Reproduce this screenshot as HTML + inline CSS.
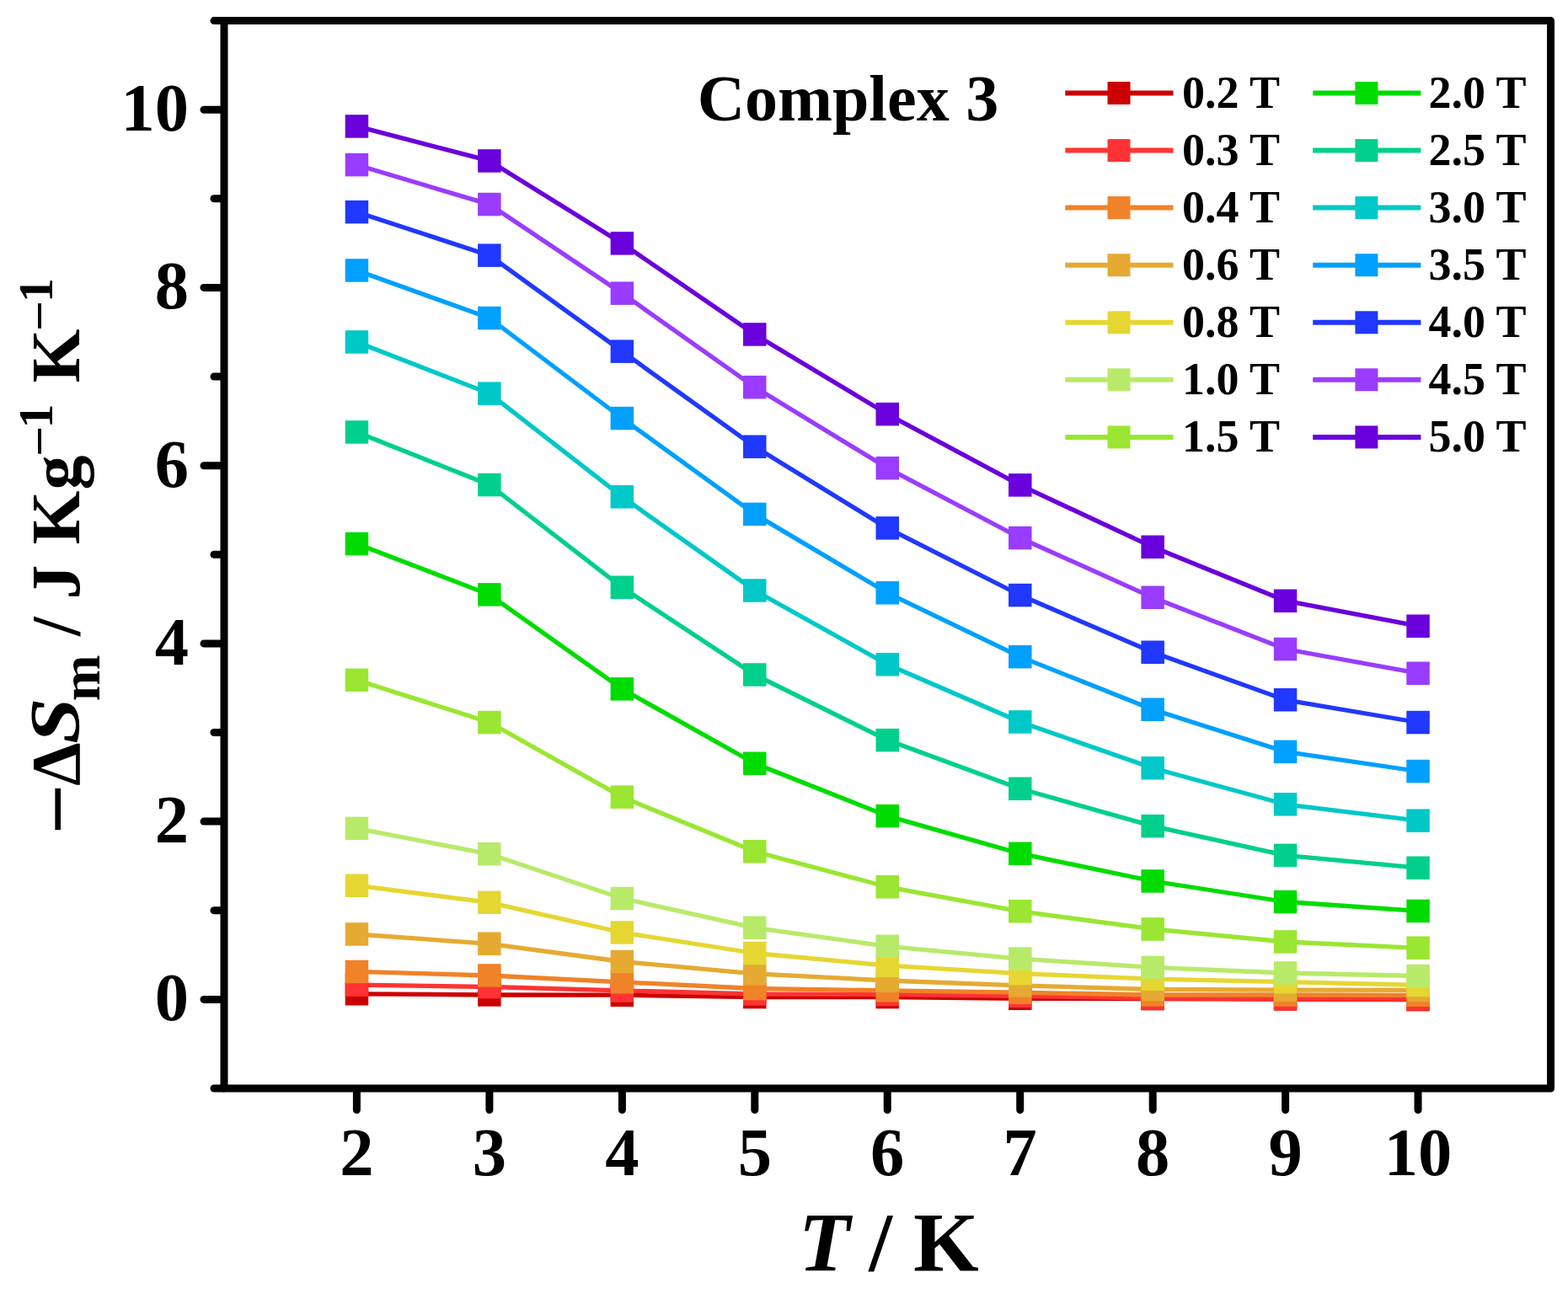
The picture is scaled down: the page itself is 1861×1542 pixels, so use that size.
<!DOCTYPE html><html><head><meta charset="utf-8"><title>Complex 3</title><style>html,body{margin:0;padding:0;background:#fff;overflow:hidden}svg{display:block}text{font-family:"Liberation Serif","Times New Roman",serif;font-weight:bold;fill:#000}</style></head><body>
<svg width="1861" height="1542" viewBox="0 0 1861 1542">
<rect width="1861" height="1542" fill="#fff"/>
<g stroke-linejoin="round" stroke-linecap="butt">
<path d="M423.4,1179.8 L580.9,1181.0 L738.4,1181.2 L895.8,1183.5 L1053.2,1183.5 L1210.7,1185.3 L1368.2,1185.5 L1525.6,1186.0 L1683.0,1186.5" fill="none" stroke="#cc0000" stroke-width="5.3"/>
<rect x="409.7" y="1166.0" width="27.5" height="27.5" fill="#cc0000"/>
<rect x="567.1" y="1167.2" width="27.5" height="27.5" fill="#cc0000"/>
<rect x="724.6" y="1167.5" width="27.5" height="27.5" fill="#cc0000"/>
<rect x="882.0" y="1169.8" width="27.5" height="27.5" fill="#cc0000"/>
<rect x="1039.5" y="1169.8" width="27.5" height="27.5" fill="#cc0000"/>
<rect x="1197.0" y="1171.5" width="27.5" height="27.5" fill="#cc0000"/>
<rect x="1354.4" y="1171.8" width="27.5" height="27.5" fill="#cc0000"/>
<rect x="1511.8" y="1172.2" width="27.5" height="27.5" fill="#cc0000"/>
<rect x="1669.3" y="1172.8" width="27.5" height="27.5" fill="#cc0000"/>
<path d="M423.4,1169.1 L580.9,1171.5 L738.4,1175.9 L895.8,1180.0 L1053.2,1180.5 L1210.7,1182.3 L1368.2,1185.1 L1525.6,1185.5 L1683.0,1186.0" fill="none" stroke="#ff3333" stroke-width="5.3"/>
<rect x="409.7" y="1155.3" width="27.5" height="27.5" fill="#ff3333"/>
<rect x="567.1" y="1157.8" width="27.5" height="27.5" fill="#ff3333"/>
<rect x="724.6" y="1162.2" width="27.5" height="27.5" fill="#ff3333"/>
<rect x="882.0" y="1166.2" width="27.5" height="27.5" fill="#ff3333"/>
<rect x="1039.5" y="1166.8" width="27.5" height="27.5" fill="#ff3333"/>
<rect x="1197.0" y="1168.5" width="27.5" height="27.5" fill="#ff3333"/>
<rect x="1354.4" y="1171.3" width="27.5" height="27.5" fill="#ff3333"/>
<rect x="1511.8" y="1171.8" width="27.5" height="27.5" fill="#ff3333"/>
<rect x="1669.3" y="1172.2" width="27.5" height="27.5" fill="#ff3333"/>
<path d="M423.4,1153.4 L580.9,1158.0 L738.4,1165.8 L895.8,1173.5 L1053.2,1175.8 L1210.7,1178.2 L1368.2,1181.0 L1525.6,1181.0 L1683.0,1181.3" fill="none" stroke="#f08228" stroke-width="5.3"/>
<rect x="409.7" y="1139.7" width="27.5" height="27.5" fill="#f08228"/>
<rect x="567.1" y="1144.2" width="27.5" height="27.5" fill="#f08228"/>
<rect x="724.6" y="1152.0" width="27.5" height="27.5" fill="#f08228"/>
<rect x="882.0" y="1159.8" width="27.5" height="27.5" fill="#f08228"/>
<rect x="1039.5" y="1162.0" width="27.5" height="27.5" fill="#f08228"/>
<rect x="1197.0" y="1164.5" width="27.5" height="27.5" fill="#f08228"/>
<rect x="1354.4" y="1167.2" width="27.5" height="27.5" fill="#f08228"/>
<rect x="1511.8" y="1167.2" width="27.5" height="27.5" fill="#f08228"/>
<rect x="1669.3" y="1167.5" width="27.5" height="27.5" fill="#f08228"/>
<path d="M423.4,1109.0 L580.9,1120.3 L738.4,1141.5 L895.8,1155.8 L1053.2,1164.0 L1210.7,1169.9 L1368.2,1174.5 L1525.6,1175.1 L1683.0,1175.3" fill="none" stroke="#e6aa32" stroke-width="5.3"/>
<rect x="409.7" y="1095.2" width="27.5" height="27.5" fill="#e6aa32"/>
<rect x="567.1" y="1106.5" width="27.5" height="27.5" fill="#e6aa32"/>
<rect x="724.6" y="1127.8" width="27.5" height="27.5" fill="#e6aa32"/>
<rect x="882.0" y="1142.0" width="27.5" height="27.5" fill="#e6aa32"/>
<rect x="1039.5" y="1150.2" width="27.5" height="27.5" fill="#e6aa32"/>
<rect x="1197.0" y="1156.2" width="27.5" height="27.5" fill="#e6aa32"/>
<rect x="1354.4" y="1160.8" width="27.5" height="27.5" fill="#e6aa32"/>
<rect x="1511.8" y="1161.3" width="27.5" height="27.5" fill="#e6aa32"/>
<rect x="1669.3" y="1161.5" width="27.5" height="27.5" fill="#e6aa32"/>
<path d="M423.4,1051.2 L580.9,1071.3 L738.4,1107.0 L895.8,1131.5 L1053.2,1146.2 L1210.7,1155.7 L1368.2,1162.1 L1525.6,1165.6 L1683.0,1169.3" fill="none" stroke="#e6d632" stroke-width="5.3"/>
<rect x="409.7" y="1037.5" width="27.5" height="27.5" fill="#e6d632"/>
<rect x="567.1" y="1057.5" width="27.5" height="27.5" fill="#e6d632"/>
<rect x="724.6" y="1093.2" width="27.5" height="27.5" fill="#e6d632"/>
<rect x="882.0" y="1117.8" width="27.5" height="27.5" fill="#e6d632"/>
<rect x="1039.5" y="1132.5" width="27.5" height="27.5" fill="#e6d632"/>
<rect x="1197.0" y="1142.0" width="27.5" height="27.5" fill="#e6d632"/>
<rect x="1354.4" y="1148.3" width="27.5" height="27.5" fill="#e6d632"/>
<rect x="1511.8" y="1151.8" width="27.5" height="27.5" fill="#e6d632"/>
<rect x="1669.3" y="1155.5" width="27.5" height="27.5" fill="#e6d632"/>
<path d="M423.4,983.4 L580.9,1013.8 L738.4,1066.5 L895.8,1101.3 L1053.2,1123.3 L1210.7,1138.1 L1368.2,1148.4 L1525.6,1155.0 L1683.0,1158.5" fill="none" stroke="#b8ea6a" stroke-width="5.3"/>
<rect x="409.7" y="969.6" width="27.5" height="27.5" fill="#b8ea6a"/>
<rect x="567.1" y="1000.0" width="27.5" height="27.5" fill="#b8ea6a"/>
<rect x="724.6" y="1052.8" width="27.5" height="27.5" fill="#b8ea6a"/>
<rect x="882.0" y="1087.5" width="27.5" height="27.5" fill="#b8ea6a"/>
<rect x="1039.5" y="1109.5" width="27.5" height="27.5" fill="#b8ea6a"/>
<rect x="1197.0" y="1124.3" width="27.5" height="27.5" fill="#b8ea6a"/>
<rect x="1354.4" y="1134.7" width="27.5" height="27.5" fill="#b8ea6a"/>
<rect x="1511.8" y="1141.2" width="27.5" height="27.5" fill="#b8ea6a"/>
<rect x="1669.3" y="1144.8" width="27.5" height="27.5" fill="#b8ea6a"/>
<path d="M423.4,807.2 L580.9,857.5 L738.4,946.1 L895.8,1010.8 L1053.2,1052.8 L1210.7,1081.8 L1368.2,1102.9 L1525.6,1118.0 L1683.0,1125.3" fill="none" stroke="#9ae632" stroke-width="5.3"/>
<rect x="409.7" y="793.5" width="27.5" height="27.5" fill="#9ae632"/>
<rect x="567.1" y="843.8" width="27.5" height="27.5" fill="#9ae632"/>
<rect x="724.6" y="932.4" width="27.5" height="27.5" fill="#9ae632"/>
<rect x="882.0" y="997.0" width="27.5" height="27.5" fill="#9ae632"/>
<rect x="1039.5" y="1039.0" width="27.5" height="27.5" fill="#9ae632"/>
<rect x="1197.0" y="1068.0" width="27.5" height="27.5" fill="#9ae632"/>
<rect x="1354.4" y="1089.2" width="27.5" height="27.5" fill="#9ae632"/>
<rect x="1511.8" y="1104.2" width="27.5" height="27.5" fill="#9ae632"/>
<rect x="1669.3" y="1111.5" width="27.5" height="27.5" fill="#9ae632"/>
<path d="M423.4,645.5 L580.9,705.9 L738.4,817.9 L895.8,906.2 L1053.2,968.6 L1210.7,1013.2 L1368.2,1046.0 L1525.6,1070.5 L1683.0,1081.4" fill="none" stroke="#00dc00" stroke-width="5.3"/>
<rect x="409.7" y="631.8" width="27.5" height="27.5" fill="#00dc00"/>
<rect x="567.1" y="692.1" width="27.5" height="27.5" fill="#00dc00"/>
<rect x="724.6" y="804.1" width="27.5" height="27.5" fill="#00dc00"/>
<rect x="882.0" y="892.5" width="27.5" height="27.5" fill="#00dc00"/>
<rect x="1039.5" y="954.9" width="27.5" height="27.5" fill="#00dc00"/>
<rect x="1197.0" y="999.5" width="27.5" height="27.5" fill="#00dc00"/>
<rect x="1354.4" y="1032.2" width="27.5" height="27.5" fill="#00dc00"/>
<rect x="1511.8" y="1056.8" width="27.5" height="27.5" fill="#00dc00"/>
<rect x="1669.3" y="1067.7" width="27.5" height="27.5" fill="#00dc00"/>
<path d="M423.4,513.0 L580.9,575.5 L738.4,697.3 L895.8,801.0 L1053.2,878.6 L1210.7,936.2 L1368.2,980.6 L1525.6,1015.4 L1683.0,1030.2" fill="none" stroke="#00d08c" stroke-width="5.3"/>
<rect x="409.7" y="499.2" width="27.5" height="27.5" fill="#00d08c"/>
<rect x="567.1" y="561.8" width="27.5" height="27.5" fill="#00d08c"/>
<rect x="724.6" y="683.5" width="27.5" height="27.5" fill="#00d08c"/>
<rect x="882.0" y="787.2" width="27.5" height="27.5" fill="#00d08c"/>
<rect x="1039.5" y="864.9" width="27.5" height="27.5" fill="#00d08c"/>
<rect x="1197.0" y="922.5" width="27.5" height="27.5" fill="#00d08c"/>
<rect x="1354.4" y="966.9" width="27.5" height="27.5" fill="#00d08c"/>
<rect x="1511.8" y="1001.6" width="27.5" height="27.5" fill="#00d08c"/>
<rect x="1669.3" y="1016.5" width="27.5" height="27.5" fill="#00d08c"/>
<path d="M423.4,406.0 L580.9,467.1 L738.4,589.7 L895.8,701.0 L1053.2,788.8 L1210.7,857.0 L1368.2,911.7 L1525.6,954.8 L1683.0,974.1" fill="none" stroke="#00c8c8" stroke-width="5.3"/>
<rect x="409.7" y="392.2" width="27.5" height="27.5" fill="#00c8c8"/>
<rect x="567.1" y="453.4" width="27.5" height="27.5" fill="#00c8c8"/>
<rect x="724.6" y="576.0" width="27.5" height="27.5" fill="#00c8c8"/>
<rect x="882.0" y="687.2" width="27.5" height="27.5" fill="#00c8c8"/>
<rect x="1039.5" y="775.0" width="27.5" height="27.5" fill="#00c8c8"/>
<rect x="1197.0" y="843.2" width="27.5" height="27.5" fill="#00c8c8"/>
<rect x="1354.4" y="898.0" width="27.5" height="27.5" fill="#00c8c8"/>
<rect x="1511.8" y="941.0" width="27.5" height="27.5" fill="#00c8c8"/>
<rect x="1669.3" y="960.4" width="27.5" height="27.5" fill="#00c8c8"/>
<path d="M423.4,321.0 L580.9,377.5 L738.4,496.5 L895.8,610.4 L1053.2,703.8 L1210.7,779.6 L1368.2,842.3 L1525.6,892.4 L1683.0,915.5" fill="none" stroke="#00a0ff" stroke-width="5.3"/>
<rect x="409.7" y="307.2" width="27.5" height="27.5" fill="#00a0ff"/>
<rect x="567.1" y="363.8" width="27.5" height="27.5" fill="#00a0ff"/>
<rect x="724.6" y="482.8" width="27.5" height="27.5" fill="#00a0ff"/>
<rect x="882.0" y="596.6" width="27.5" height="27.5" fill="#00a0ff"/>
<rect x="1039.5" y="690.0" width="27.5" height="27.5" fill="#00a0ff"/>
<rect x="1197.0" y="765.9" width="27.5" height="27.5" fill="#00a0ff"/>
<rect x="1354.4" y="828.5" width="27.5" height="27.5" fill="#00a0ff"/>
<rect x="1511.8" y="878.6" width="27.5" height="27.5" fill="#00a0ff"/>
<rect x="1669.3" y="901.8" width="27.5" height="27.5" fill="#00a0ff"/>
<path d="M423.4,251.7 L580.9,303.2 L738.4,417.2 L895.8,530.3 L1053.2,626.9 L1210.7,706.5 L1368.2,774.3 L1525.6,830.8 L1683.0,857.5" fill="none" stroke="#2038ff" stroke-width="5.3"/>
<rect x="409.7" y="237.9" width="27.5" height="27.5" fill="#2038ff"/>
<rect x="567.1" y="289.4" width="27.5" height="27.5" fill="#2038ff"/>
<rect x="724.6" y="403.4" width="27.5" height="27.5" fill="#2038ff"/>
<rect x="882.0" y="516.5" width="27.5" height="27.5" fill="#2038ff"/>
<rect x="1039.5" y="613.1" width="27.5" height="27.5" fill="#2038ff"/>
<rect x="1197.0" y="692.8" width="27.5" height="27.5" fill="#2038ff"/>
<rect x="1354.4" y="760.5" width="27.5" height="27.5" fill="#2038ff"/>
<rect x="1511.8" y="817.0" width="27.5" height="27.5" fill="#2038ff"/>
<rect x="1669.3" y="843.8" width="27.5" height="27.5" fill="#2038ff"/>
<path d="M423.4,195.7 L580.9,242.6 L738.4,348.2 L895.8,459.6 L1053.2,555.6 L1210.7,638.5 L1368.2,709.3 L1525.6,770.5 L1683.0,799.2" fill="none" stroke="#9a3cff" stroke-width="5.3"/>
<rect x="409.7" y="181.9" width="27.5" height="27.5" fill="#9a3cff"/>
<rect x="567.1" y="228.8" width="27.5" height="27.5" fill="#9a3cff"/>
<rect x="724.6" y="334.4" width="27.5" height="27.5" fill="#9a3cff"/>
<rect x="882.0" y="445.9" width="27.5" height="27.5" fill="#9a3cff"/>
<rect x="1039.5" y="541.9" width="27.5" height="27.5" fill="#9a3cff"/>
<rect x="1197.0" y="624.8" width="27.5" height="27.5" fill="#9a3cff"/>
<rect x="1354.4" y="695.5" width="27.5" height="27.5" fill="#9a3cff"/>
<rect x="1511.8" y="756.8" width="27.5" height="27.5" fill="#9a3cff"/>
<rect x="1669.3" y="785.5" width="27.5" height="27.5" fill="#9a3cff"/>
<path d="M423.4,149.9 L580.9,190.9 L738.4,288.9 L895.8,397.0 L1053.2,491.6 L1210.7,575.9 L1368.2,649.3 L1525.6,713.2 L1683.0,743.2" fill="none" stroke="#6a00dc" stroke-width="5.3"/>
<rect x="409.7" y="136.2" width="27.5" height="27.5" fill="#6a00dc"/>
<rect x="567.1" y="177.2" width="27.5" height="27.5" fill="#6a00dc"/>
<rect x="724.6" y="275.1" width="27.5" height="27.5" fill="#6a00dc"/>
<rect x="882.0" y="383.2" width="27.5" height="27.5" fill="#6a00dc"/>
<rect x="1039.5" y="477.9" width="27.5" height="27.5" fill="#6a00dc"/>
<rect x="1197.0" y="562.1" width="27.5" height="27.5" fill="#6a00dc"/>
<rect x="1354.4" y="635.5" width="27.5" height="27.5" fill="#6a00dc"/>
<rect x="1511.8" y="699.5" width="27.5" height="27.5" fill="#6a00dc"/>
<rect x="1669.3" y="729.5" width="27.5" height="27.5" fill="#6a00dc"/>
</g>
<g stroke="#000" stroke-width="9" stroke-linecap="round" stroke-linejoin="round" fill="none">
<path d="M266.0,24.6 L1840.5,24.6 L1840.5,1292.0 L266.0,1292.0 Z"/>
<line x1="265.0" y1="1292.0" x2="254.0" y2="1292.0"/>
<line x1="265.0" y1="1186.4" x2="242.0" y2="1186.4"/>
<line x1="265.0" y1="1080.8" x2="254.0" y2="1080.8"/>
<line x1="265.0" y1="975.1" x2="242.0" y2="975.1"/>
<line x1="265.0" y1="869.5" x2="254.0" y2="869.5"/>
<line x1="265.0" y1="763.9" x2="242.0" y2="763.9"/>
<line x1="265.0" y1="658.3" x2="254.0" y2="658.3"/>
<line x1="265.0" y1="552.7" x2="242.0" y2="552.7"/>
<line x1="265.0" y1="447.1" x2="254.0" y2="447.1"/>
<line x1="265.0" y1="341.4" x2="242.0" y2="341.4"/>
<line x1="265.0" y1="235.8" x2="254.0" y2="235.8"/>
<line x1="265.0" y1="130.2" x2="242.0" y2="130.2"/>
<line x1="265.0" y1="24.6" x2="254.0" y2="24.6"/>
<line x1="423.4" y1="1293.0" x2="423.4" y2="1317.5"/>
<line x1="580.9" y1="1293.0" x2="580.9" y2="1317.5"/>
<line x1="738.4" y1="1293.0" x2="738.4" y2="1317.5"/>
<line x1="895.8" y1="1293.0" x2="895.8" y2="1317.5"/>
<line x1="1053.2" y1="1293.0" x2="1053.2" y2="1317.5"/>
<line x1="1210.7" y1="1293.0" x2="1210.7" y2="1317.5"/>
<line x1="1368.2" y1="1293.0" x2="1368.2" y2="1317.5"/>
<line x1="1525.6" y1="1293.0" x2="1525.6" y2="1317.5"/>
<line x1="1683.0" y1="1293.0" x2="1683.0" y2="1317.5"/>
</g>
<g font-size="80.5">
<text x="224" y="1211.4" text-anchor="end">0</text>
<text x="224" y="1000.1" text-anchor="end">2</text>
<text x="224" y="788.9" text-anchor="end">4</text>
<text x="224" y="577.7" text-anchor="end">6</text>
<text x="224" y="366.4" text-anchor="end">8</text>
<text x="224" y="155.2" text-anchor="end">10</text>
<text x="423.4" y="1395" text-anchor="middle">2</text>
<text x="580.9" y="1395" text-anchor="middle">3</text>
<text x="738.4" y="1395" text-anchor="middle">4</text>
<text x="895.8" y="1395" text-anchor="middle">5</text>
<text x="1053.2" y="1395" text-anchor="middle">6</text>
<text x="1210.7" y="1395" text-anchor="middle">7</text>
<text x="1368.2" y="1395" text-anchor="middle">8</text>
<text x="1525.6" y="1395" text-anchor="middle">9</text>
<text x="1683.0" y="1395" text-anchor="middle">10</text>
</g>
<text y="1508" font-size="100"><tspan x="947.8" font-style="italic">T</tspan><tspan x="1031.3">/</tspan><tspan x="1084.1">K</tspan></text>
<text x="827.7" y="143" font-size="78">Complex 3</text>
<line x1="1264.3" y1="110.5" x2="1392.5" y2="110.5" stroke="#cc0000" stroke-width="6" stroke-linecap="butt"/>
<rect x="1314.5" y="97.0" width="27" height="27" fill="#cc0000"/>
<text x="1403.1" y="127.5" font-size="54">0.2 T</text>
<line x1="1264.3" y1="178.6" x2="1392.5" y2="178.6" stroke="#ff3333" stroke-width="6" stroke-linecap="butt"/>
<rect x="1314.5" y="165.1" width="27" height="27" fill="#ff3333"/>
<text x="1403.1" y="195.6" font-size="54">0.3 T</text>
<line x1="1264.3" y1="246.6" x2="1392.5" y2="246.6" stroke="#f08228" stroke-width="6" stroke-linecap="butt"/>
<rect x="1314.5" y="233.1" width="27" height="27" fill="#f08228"/>
<text x="1403.1" y="263.6" font-size="54">0.4 T</text>
<line x1="1264.3" y1="314.7" x2="1392.5" y2="314.7" stroke="#e6aa32" stroke-width="6" stroke-linecap="butt"/>
<rect x="1314.5" y="301.2" width="27" height="27" fill="#e6aa32"/>
<text x="1403.1" y="331.7" font-size="54">0.6 T</text>
<line x1="1264.3" y1="382.8" x2="1392.5" y2="382.8" stroke="#e6d632" stroke-width="6" stroke-linecap="butt"/>
<rect x="1314.5" y="369.3" width="27" height="27" fill="#e6d632"/>
<text x="1403.1" y="399.8" font-size="54">0.8 T</text>
<line x1="1264.3" y1="450.8" x2="1392.5" y2="450.8" stroke="#b8ea6a" stroke-width="6" stroke-linecap="butt"/>
<rect x="1314.5" y="437.3" width="27" height="27" fill="#b8ea6a"/>
<text x="1403.1" y="467.8" font-size="54">1.0 T</text>
<line x1="1264.3" y1="518.9" x2="1392.5" y2="518.9" stroke="#9ae632" stroke-width="6" stroke-linecap="butt"/>
<rect x="1314.5" y="505.4" width="27" height="27" fill="#9ae632"/>
<text x="1403.1" y="535.9" font-size="54">1.5 T</text>
<line x1="1558.1999999999998" y1="110.5" x2="1686.4" y2="110.5" stroke="#00dc00" stroke-width="6" stroke-linecap="butt"/>
<rect x="1608.4" y="97.0" width="27" height="27" fill="#00dc00"/>
<text x="1695.4" y="127.5" font-size="54">2.0 T</text>
<line x1="1558.1999999999998" y1="178.6" x2="1686.4" y2="178.6" stroke="#00d08c" stroke-width="6" stroke-linecap="butt"/>
<rect x="1608.4" y="165.1" width="27" height="27" fill="#00d08c"/>
<text x="1695.4" y="195.6" font-size="54">2.5 T</text>
<line x1="1558.1999999999998" y1="246.6" x2="1686.4" y2="246.6" stroke="#00c8c8" stroke-width="6" stroke-linecap="butt"/>
<rect x="1608.4" y="233.1" width="27" height="27" fill="#00c8c8"/>
<text x="1695.4" y="263.6" font-size="54">3.0 T</text>
<line x1="1558.1999999999998" y1="314.7" x2="1686.4" y2="314.7" stroke="#00a0ff" stroke-width="6" stroke-linecap="butt"/>
<rect x="1608.4" y="301.2" width="27" height="27" fill="#00a0ff"/>
<text x="1695.4" y="331.7" font-size="54">3.5 T</text>
<line x1="1558.1999999999998" y1="382.8" x2="1686.4" y2="382.8" stroke="#2038ff" stroke-width="6" stroke-linecap="butt"/>
<rect x="1608.4" y="369.3" width="27" height="27" fill="#2038ff"/>
<text x="1695.4" y="399.8" font-size="54">4.0 T</text>
<line x1="1558.1999999999998" y1="450.8" x2="1686.4" y2="450.8" stroke="#9a3cff" stroke-width="6" stroke-linecap="butt"/>
<rect x="1608.4" y="437.3" width="27" height="27" fill="#9a3cff"/>
<text x="1695.4" y="467.8" font-size="54">4.5 T</text>
<line x1="1558.1999999999998" y1="518.9" x2="1686.4" y2="518.9" stroke="#6a00dc" stroke-width="6" stroke-linecap="butt"/>
<rect x="1608.4" y="505.4" width="27" height="27" fill="#6a00dc"/>
<text x="1695.4" y="535.9" font-size="54">5.0 T</text>
<text transform="rotate(-90)" font-size="82">
<tspan x="-984.6" y="91.1" font-size="96">–</tspan>
<tspan x="-932.7" y="94.3" font-size="82">Δ</tspan>
<tspan x="-883.1" y="94.3" font-size="84" font-style="italic" textLength="54.7" lengthAdjust="spacingAndGlyphs">S</tspan>
<tspan x="-832.2" y="117.7" font-size="66">m</tspan>
<tspan x="-754.96" y="94.3" font-size="82">/</tspan>
<tspan x="-711.4" y="94.3" font-size="82">J</tspan>
<tspan x="-646.5" y="94.3" font-size="82">K</tspan>
<tspan x="-581.5" y="94.3" font-size="82">g</tspan>
<tspan x="-538.25" y="60.2" font-size="58">–</tspan>
<tspan x="-508.4" y="61.5" font-size="58">1</tspan>
<tspan x="-454.5" y="94.3" font-size="82">K</tspan>
<tspan x="-389.45" y="60.2" font-size="58">–</tspan>
<tspan x="-359.0" y="61.5" font-size="58">1</tspan>
</text>
</svg></body></html>
